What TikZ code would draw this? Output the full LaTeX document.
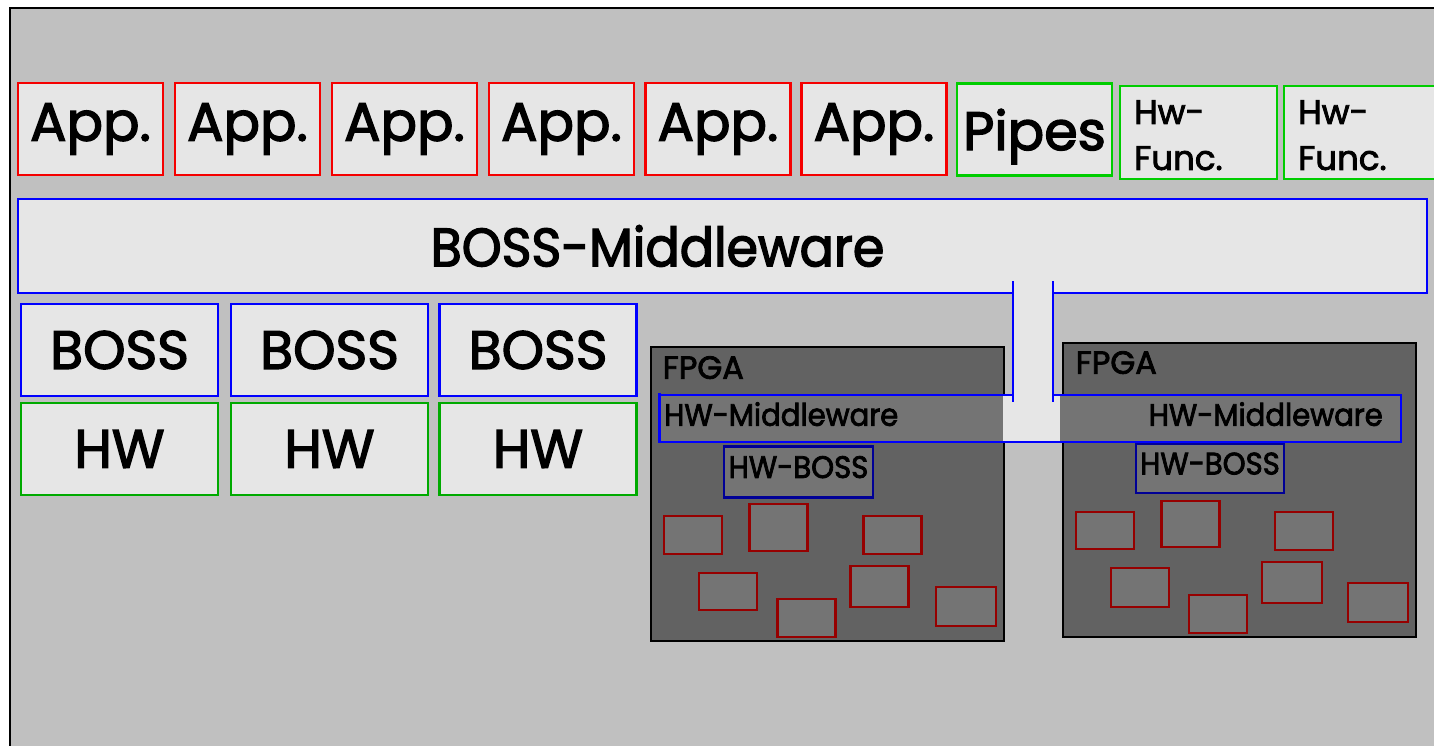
\documentclass[tikz,border=0pt]{standalone}
\usepackage{fontspec}
\setmainfont{Poppins}[FakeBold=2.5]
\newfontfamily\narrowfont{Poppins}[FakeBold=2.5,FakeStretch=0.94]
\definecolor{panelgray}{RGB}{192,192,192}
\definecolor{boxfill}{RGB}{230,230,230}
\definecolor{fpgagray}{RGB}{98,98,98}
\definecolor{cellgray}{RGB}{116,116,116}
\definecolor{appred}{RGB}{245,0,0}
\definecolor{cellred}{RGB}{150,0,0}
\definecolor{funcgreen}{RGB}{0,205,0}
\definecolor{hwgreen}{RGB}{0,170,0}
\definecolor{mwblue}{RGB}{0,0,255}
\definecolor{hwbossblue}{RGB}{0,0,150}
\usetikzlibrary{positioning}
\newcommand{\diagbig}{\fontsize{54}{60}\selectfont}
\newcommand{\diagsmall}{\fontsize{32}{46}\selectfont}
\newcommand{\diagfunc}{\fontsize{34}{46}\selectfont}
\newcommand{\diaglabel}{\fontsize{31}{40}\selectfont\narrowfont}

\begin{document}
\begin{tikzpicture}[x=1pt,y=-1pt,
    box/.style={draw,fill=boxfill,line width=2.5pt,inner sep=0pt,outer sep=0pt,font=\diagbig},
    appbox/.style={box,draw=appred,minimum width=145pt,minimum height=92pt},
    funcbox/.style={box,draw=funcgreen,minimum width=157pt,minimum height=93pt},
    bossbox/.style={box,draw=mwblue,minimum width=197pt,minimum height=92pt},
    hwbox/.style={box,draw=hwgreen,minimum width=197pt,minimum height=92pt},
    fpga/.style={draw=black,fill=fpgagray,line width=2pt,inner sep=0pt,minimum width=353pt,minimum height=294pt},
    hwboss/.style={draw=hwbossblue,fill=cellgray,line width=2.5pt,inner sep=0pt,font=\diaglabel,
        minimum width=149pt,minimum height=51pt,text depth=10pt},
    cell/.style={draw=cellred,fill=cellgray,line width=2.5pt,inner sep=0pt,minimum width=58pt,minimum height=38pt},
    smalltext/.style={font=\diagsmall,inner sep=0pt,anchor=north west},
    mwline/.style={mwblue,line width=2pt}
]
    % frame
    \useasboundingbox (0,0) rectangle (1434,746);
    \fill[white] (0,0) rectangle (1434,746);
    \fill[panelgray] (10,8) rectangle (1440,750);
    \draw[line width=2pt] (10,750) -- (10,8) -- (1440,8);

    % applications
    \node[appbox] (app1) at (90.5,129) {App.};
    \node[appbox] (app2) at (247.5,129) {App.};
    \node[appbox] (app3) at (404.5,129) {App.};
    \node[appbox] (app4) at (561.5,129) {App.};
    \node[appbox] (app5) at (718,129) {App.};
    \node[appbox] (app6) at (874,129) {App.};
    \node[funcbox,minimum width=155pt,minimum height=92pt,text depth=0pt] (pipes) at (1034.5,129.5) {Pipes};
    \node[funcbox] (hwf1) at (1198.5,132.5) {};
    \node[funcbox] (hwf2) at (1362.5,132.5) {};
    \node[smalltext,font=\diagfunc,align=left] (hwf1txt) at ([shift={(14,14)}]hwf1.north west) {Hw-\\Func.};
    \node[smalltext,font=\diagfunc,align=left] (hwf2txt) at ([shift={(14,14)}]hwf2.north west) {Hw-\\Func.};

    % FPGA boards
    \node[fpga] (fpgaL) at (827,494) {};
    \node[fpga] (fpgaR) at (1239,490) {};
    \node[smalltext] (fpgaLtxt) at ([shift={(13,10)}]fpgaL.north west) {FPGA};
    \node[smalltext] (fpgaRtxt) at ([shift={(14,9)}]fpgaR.north west) {FPGA};

    % hardware middleware strip and channel
    \fill[cellgray] (659,395) rectangle (1003,442);
    \fill[cellgray] (1060,395) rectangle (1401,442);
    \fill[boxfill] (1003,395) rectangle (1060,442);
    \fill[boxfill] (1013,290) rectangle (1053,396);
    \draw[mwline] (659,395) -- (1013,395);
    \draw[mwline] (1053,395) -- (1401,395) -- (1401,442) -- (659,442);
    \draw[mwblue,line width=3pt] (659,393) -- (659,443);
    \node[smalltext,font=\diaglabel] (hwmwL) at (664,402) {HW-Middleware};
    \node[smalltext,font=\diaglabel,anchor=north east] (hwmwR) at (1383,402) {HW-Middleware};

    % middleware
    \node[box,draw=none,minimum width=1409pt,minimum height=94pt] (mw) at (722.5,246) {};
    \node[font=\diagbig\narrowfont,inner sep=0pt] (mwtxt) at (657.5,246) {BOSS-Middleware};
    \coordinate (gapL) at (1013,293);
    \coordinate (gapR) at (1053,293);
    \draw[mwline,line width=2.5pt] (gapL) -- (mw.south west) -- (mw.north west) -- (mw.north east) -- (mw.south east) -- (gapR);
    \draw[mwline] (1013,281) -- (1013,402);
    \draw[mwline] (1053,281) -- (1053,402);

    % BOSS and HW stacks
    \node[bossbox] (boss1) at (119.5,350) {BOSS};
    \node[bossbox] (boss2) at (329.5,350) {BOSS};
    \node[bossbox] (boss3) at (538,350) {BOSS};
    \node[hwbox] (hw1) at (119.5,449) {HW};
    \node[hwbox] (hw2) at (329.5,449) {HW};
    \node[hwbox] (hw3) at (538,449) {HW};

    % HW-BOSS
    \node[hwboss] (hwbossL) at (798.5,472) {HW-BOSS};
    \node[hwboss,minimum width=148pt,minimum height=49pt] (hwbossR) at (1210,468.5) {HW-BOSS};

    % cells on left FPGA
    \node[cell] (cl1) at (693,535) {};
    \node[cell,minimum height=47pt] (cl2) at (778.5,527.5) {};
    \node[cell] (cl3) at (892.5,535) {};
    \node[cell,minimum height=37pt] (cl4) at (728,591.5) {};
    \node[cell] (cl5) at (806.5,618) {};
    \node[cell,minimum height=41pt] (cl6) at (879.5,586.5) {};
    \node[cell,minimum width=60pt,minimum height=39pt] (cl7) at (966,606.5) {};

    % cells on right FPGA
    \node[cell,minimum height=37pt] (cr1) at (1105,530.5) {};
    \node[cell,minimum height=46pt] (cr2) at (1190.5,524) {};
    \node[cell] (cr3) at (1304,531) {};
    \node[cell,minimum height=39pt] (cr4) at (1140,587.5) {};
    \node[cell] (cr5) at (1218,614) {};
    \node[cell,minimum width=60pt,minimum height=41pt] (cr6) at (1292,582.5) {};
    \node[cell,minimum width=60pt,minimum height=39pt] (cr7) at (1378,602.5) {};
\end{tikzpicture}
\end{document}
